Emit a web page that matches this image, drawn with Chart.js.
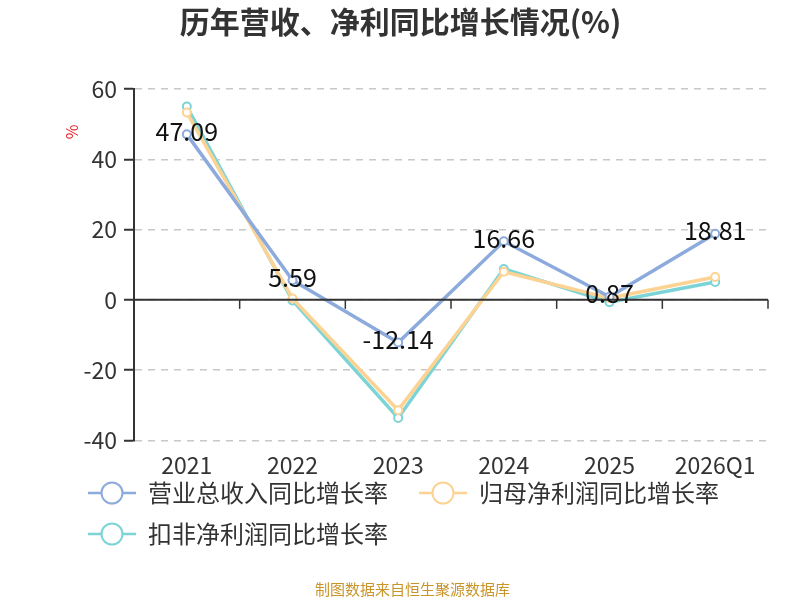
<!DOCTYPE html>
<html>
<head>
<meta charset="utf-8">
<script src="https://cdn.jsdelivr.net/npm/chart.js@4/dist/chart.umd.min.js"></script>
<style>
  html, body { margin: 0; padding: 0; background: #fff; }
  #wrap { width: 800px; height: 600px; }
</style>
</head>
<body>
<div id="wrap"><canvas id="lineChart" width="800" height="600"></canvas></div>
<script>
// 数据
const years = ['2021', '2022', '2023', '2024', '2025', '2026Q1'];
const revenueGrowth = [47.09, 5.59, -12.14, 16.66, 0.87, 18.81];
const parentProfitGrowth = [53.3, 0.4, -31.4, 8.0, 0.5, 6.5];
const deductedProfitGrowth = [55.0, -0.2, -33.6, 8.8, -0.7, 5.1];
const seriesNames = ['营业总收入同比增长率', '归母净利润同比增长率', '扣非净利润同比增长率'];
const seriesColors = ['#8caadc', '#fdd393', '#7dd4d6'];

const fontCJK = '"Noto Sans CJK SC", "Noto Sans", sans-serif';

// legend icon: short line with hollow circle (blank strip on the left = gap between items)
function makeIcon(color) {
    const c = document.createElement('canvas');
    c.width = 62; c.height = 26;
    const g = c.getContext('2d');
    g.strokeStyle = color;
    g.lineWidth = 2.5;
    g.beginPath(); g.moveTo(14, 13); g.lineTo(62, 13); g.stroke();
    g.fillStyle = '#fff';
    g.lineWidth = 2;
    g.beginPath(); g.arc(38, 13, 10.5, 0, Math.PI * 2); g.fill(); g.stroke();
    return c;
}

// pull the legend up closer to the axis labels, center the title on the canvas
const boxShift = {
    id: 'boxShift',
    afterLayout(chart) {
        chart.legend.top -= 18;
        chart.legend.bottom -= 18;
        chart.titleBlock.left -= 12;
        chart.titleBlock.right -= 12;
    }
};

// zero line, ticks on it, % label, data labels
const extras = {
    id: 'extras',
    afterDatasetsDraw(chart) {
        const ctx = chart.ctx;
        const x = chart.scales.x, y = chart.scales.y;
        const area = chart.chartArea;
        const y0 = y.getPixelForValue(0);
        ctx.save();
        ctx.strokeStyle = '#333';
        ctx.lineWidth = 2;
        ctx.beginPath(); ctx.moveTo(area.left, y0); ctx.lineTo(area.right, y0); ctx.stroke();
        ctx.lineWidth = 1.5;
        for (let i = 0; i < years.length; i++) {
            const px = i < years.length - 1
                ? (x.getPixelForValue(i) + x.getPixelForValue(i + 1)) / 2
                : area.right;
            ctx.beginPath(); ctx.moveTo(px, y0); ctx.lineTo(px, y0 + 9); ctx.stroke();
        }
        // % unit
        ctx.translate(72, 132);
        ctx.rotate(-Math.PI / 2);
        ctx.fillStyle = '#e8232a';
        ctx.font = '16px ' + fontCJK;
        ctx.textAlign = 'center';
        ctx.textBaseline = 'middle';
        ctx.fillText('%', 0, 0);
        ctx.restore();

        ctx.save();
        ctx.fillStyle = '#111';
        ctx.font = '25px ' + fontCJK;
        ctx.textAlign = 'center';
        ctx.textBaseline = 'middle';
        chart.getDatasetMeta(0).data.forEach((pt, i) => {
            ctx.fillText(revenueGrowth[i].toFixed(2), pt.x, pt.y - 3);
        });
        ctx.restore();
    }
};

const ctx = document.getElementById('lineChart').getContext('2d');
new Chart(ctx, {
    type: 'line',
    data: {
        labels: years,
        datasets: [revenueGrowth, parentProfitGrowth, deductedProfitGrowth].map((d, i) => ({
            label: seriesNames[i],
            data: d,
            borderColor: seriesColors[i],
            backgroundColor: '#fff',
            pointBackgroundColor: '#fff',
            pointBorderColor: seriesColors[i],
            pointBorderWidth: 2,
            pointRadius: 4,
            borderWidth: 3.5,
            tension: 0
        }))
    },
    options: {
        responsive: false,
        animation: false,
        layout: { padding: { left: 57, right: 32, top: 0, bottom: 0 } },
        scales: {
            x: {
                offset: true,
                grid: { display: false },
                border: { display: false },
                ticks: { color: '#333', font: { size: 23, family: fontCJK }, padding: 3, maxRotation: 0 }
            },
            y: {
                min: -40,
                max: 60,
                afterFit(scale) { scale.width = 77; },
                ticks: { stepSize: 20, color: '#333', font: { size: 23, family: fontCJK }, padding: 7 },
                border: { display: true, color: '#333', width: 2, dash: [7, 6] },
                grid: {
                    color: '#c8c8c8',
                    lineWidth: 1.5,
                    tickLength: 10,
                    tickColor: '#333',
                    tickBorderDash: [],
                    tickWidth: 2
                }
            }
        },
        plugins: {
            title: {
                display: true,
                text: '历年营收、净利同比增长情况(%)',
                color: '#333',
                font: { size: 30, weight: 'bold', family: fontCJK },
                padding: { top: 4, bottom: 49 }
            },
            subtitle: {
                display: true,
                position: 'bottom',
                text: '制图数据来自恒生聚源数据库',
                color: '#c9952b',
                font: { size: 15, family: fontCJK, lineHeight: 1 },
                padding: { top: 8, bottom: 3 }
            },
            legend: {
                position: 'bottom',
                align: 'start',
                labels: {
                    usePointStyle: true,
                    pointStyleWidth: 62,
                    color: '#333',
                    font: { size: 24, family: fontCJK },
                    padding: 17,
                    generateLabels(chart) {
                        return chart.data.datasets.map((ds, i) => ({
                            text: ds.label,
                            pointStyle: makeIcon(seriesColors[i]),
                            fontColor: '#333',
                            datasetIndex: i,
                            hidden: false,
                            lineWidth: 0
                        }));
                    }
                }
            },
            tooltip: { enabled: false }
        }
    },
    plugins: [extras, boxShift]
});
</script>
</body>
</html>
